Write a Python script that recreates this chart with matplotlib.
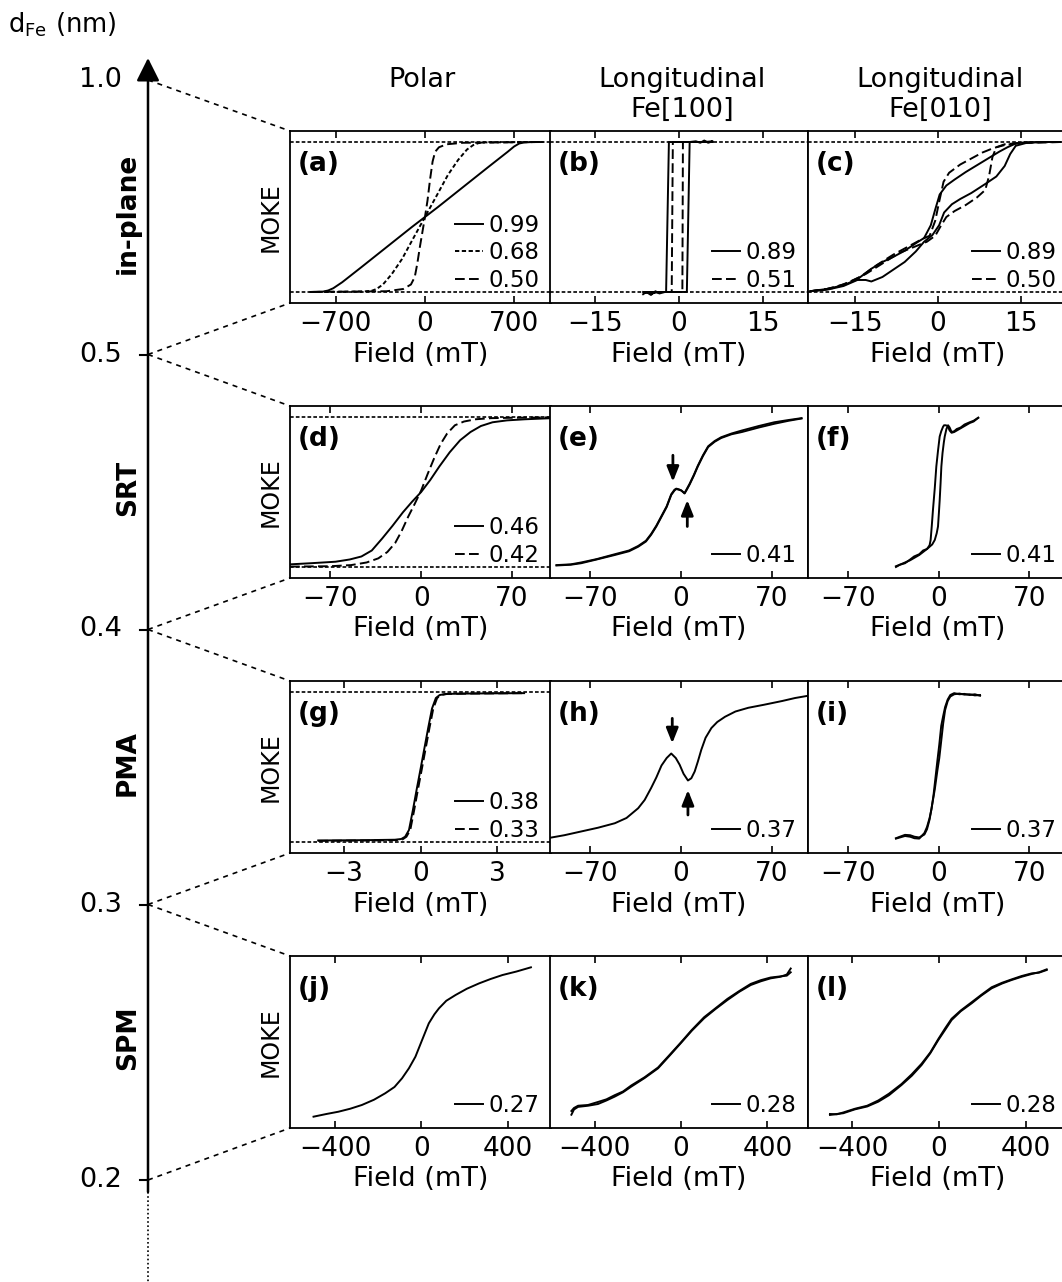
import matplotlib.pyplot as plt

W, H = 1062, 1282
fig = plt.figure(figsize=(W / 100, H / 100), dpi=100)

# thickness axis and labels
d_labels = ["1.0", "0.5", "0.4", "0.3", "0.2"]
row_names = ["in-plane", "SRT", "PMA", "SPM"]
col_titles = ["Polar", "Longitudinal\nFe[100]", "Longitudinal\nFe[010]"]
letters = "abcdefghijkl"

# ---- (a) polar, in-plane
a_x1 = [-900, -800, -760, -720, -650, -500, -300, -100, 0, 100, 300, 500, 650, 700, 740, 780, 850, 925]
a_y1 = [-1.0, -0.995, -0.98, -0.95, -0.87, -0.67, -0.40, -0.13, 0.0, 0.13, 0.40, 0.67, 0.87, 0.94, 0.98, 0.995, 1.0, 1.0]
a_x2 = [-900, -500, -420, -380, -330, -260, -180, -100, 0, 100, 180, 260, 330, 380, 420, 470, 900]
a_y2 = [-1.0, -0.995, -0.985, -0.96, -0.9, -0.76, -0.56, -0.31, 0.0, 0.31, 0.56, 0.76, 0.9, 0.96, 0.985, 0.995, 1.0]
a_x3 = [-900, -300, -170, -110, -80, -60, -40, -20, 0, 20, 40, 60, 80, 110, 170, 300, 900]
a_y3 = [-1.0, -0.99, -0.96, -0.9, -0.8, -0.62, -0.4, -0.2, 0.0, 0.22, 0.5, 0.74, 0.87, 0.93, 0.97, 0.99, 1.0]

# ---- (b) longitudinal Fe[100], in-plane
b_x1 = [-6.4, -5.8, -5, -4.2, -3.5, -2.5, 0, 1.4, 1.9, 3, 3.8, 4.5, 5.2, 6, 4.5, 3, 0, -1.8, -2.3, -3.5, -5, -6.4]
b_y1 = [-1.03, -1.0, -1.04, -0.99, -1.02, -1.0, -1.0, -1.0, 1.0, 1.01, 0.99, 1.02, 0.99, 1.01, 1.0, 1.0, 1.0, 1.0, -1.0, -1.0, -1.02, -1.0]
b_x2 = [-6.4, -3, -0.2, 0.6, 0.7, 3, 6, 3, 0, -1.1, -1.3, -3, -6.4]
b_y2 = [-1.0, -1.0, -1.0, -1.0, 1.0, 1.0, 1.0, 1.0, 1.0, 1.0, -1.0, -1.0, -1.0]

# ---- (c) longitudinal Fe[010], in-plane
c_x1_up = [-23, -20, -17, -14.5, -13, -12, -10, -8, -6, -4, -2.5, -1, 0.2, 1.1, 2.5, 4, 6, 8.5, 10.5, 12, 13, 14, 16, 19, 22]
c_y1_up = [-0.99, -0.97, -0.92, -0.84, -0.84, -0.86, -0.8, -0.7, -0.6, -0.46, -0.33, -0.24, -0.11, 0.06, 0.17, 0.24, 0.32, 0.44, 0.54, 0.68, 0.84, 0.95, 0.99, 1.0, 1.0]
c_x1_dn = [22, 18, 15, 14, 12.5, 11, 9, 7, 5, 3, 1.5, 0.3, -0.5, -1.3, -2.5, -4, -6, -8, -10, -12, -14.5, -17, -20, -23]
c_y1_dn = [1.0, 1.0, 0.99, 0.98, 0.93, 0.87, 0.78, 0.69, 0.6, 0.5, 0.42, 0.3, 0.1, -0.11, -0.28, -0.35, -0.45, -0.53, -0.6, -0.69, -0.83, -0.91, -0.96, -0.99]
c_x2_up = [-23, -19, -16, -13, -10, -7, -4, -2, -0.5, 0.5, 1.5, 3, 5, 7, 8.5, 9.2, 9.8, 10.5, 12, 15, 22]
c_y2_up = [-0.99, -0.95, -0.87, -0.76, -0.62, -0.48, -0.39, -0.33, -0.25, -0.12, 0.0, 0.08, 0.16, 0.26, 0.36, 0.55, 0.8, 0.93, 0.97, 0.99, 1.0]
c_x2_dn = [22, 15, 12, 10, 8, 6, 4, 2, 1, 0.2, -0.5, -1.5, -3, -5, -8, -11, -14, -17, -20, -23]
c_y2_dn = [1.0, 0.99, 0.96, 0.92, 0.86, 0.78, 0.7, 0.59, 0.47, 0.2, -0.05, -0.25, -0.3, -0.38, -0.5, -0.64, -0.8, -0.9, -0.96, -0.99]

# ---- (d) polar, SRT
d_x1 = [-101, -85, -66, -55, -46, -38, -30, -22, -14, -7, 0, 7, 14, 22, 30, 38, 46, 55, 66, 80, 101]
d_y1 = [-0.965, -0.95, -0.93, -0.9, -0.86, -0.78, -0.62, -0.45, -0.27, -0.13, 0.0, 0.16, 0.34, 0.53, 0.69, 0.8, 0.88, 0.93, 0.955, 0.97, 0.985]
d_x2 = [-101, -70, -54, -42, -33, -26, -20, -15, -10, -5, 0, 5, 10, 15, 20, 26, 33, 42, 54, 70, 101]
d_y2 = [-0.995, -0.99, -0.975, -0.94, -0.885, -0.8, -0.68, -0.52, -0.33, -0.16, 0.02, 0.24, 0.45, 0.64, 0.78, 0.89, 0.94, 0.97, 0.985, 0.99, 0.995]

# ---- (e) longitudinal Fe[100], SRT
e_x = [-96, -85, -77, -65, -51, -40, -33, -27, -23, -19, -15, -11, -7.5, -5, -3.6, -1.5, 0.3, 2.8, 4.5, 6.7, 10, 13, 17, 21, 26, 31, 39, 47, 60, 72, 83, 93]
e_y_up = [-0.98, -0.97, -0.95, -0.9, -0.84, -0.79, -0.73, -0.66, -0.57, -0.46, -0.33, -0.2, -0.04, 0.02, 0.04, 0.03, 0.02, -0.02, 0.03, 0.1, 0.22, 0.34, 0.48, 0.6, 0.67, 0.72, 0.77, 0.8, 0.86, 0.91, 0.95, 0.98]
e_y_dn = [-0.975, -0.965, -0.94, -0.895, -0.83, -0.78, -0.72, -0.65, -0.56, -0.45, -0.32, -0.19, -0.03, 0.03, 0.045, 0.035, 0.02, -0.015, 0.04, 0.11, 0.23, 0.35, 0.49, 0.61, 0.68, 0.73, 0.78, 0.82, 0.88, 0.93, 0.96, 0.985]
e_arrows = [(-6.2, 0.49, 0.137), (4.9, -0.46, -0.107)]

# ---- (f) longitudinal Fe[010], SRT
f_x_up = [-33, -30, -26, -22, -19, -15, -12, -9, -7, -5, -3, -1.5, -0.5, 0.3, 0.8, 1.5, 2.1, 3, 4, 4.7, 6, 7.3, 8.5, 10, 12, 14, 17, 20, 24, 27, 30.6]
f_y_up = [-1.0, -0.97, -0.95, -0.9, -0.86, -0.83, -0.78, -0.76, -0.73, -0.7, -0.64, -0.55, -0.46, -0.25, -0.11, 0.12, 0.34, 0.52, 0.66, 0.74, 0.84, 0.89, 0.86, 0.8, 0.81, 0.84, 0.86, 0.9, 0.93, 0.95, 0.99]
f_x_dn = [30.6, 27, 24, 20, 17, 14, 12, 10, 8.5, 7, 5.5, 4.2, 3.4, 2, 0.8, -0.5, -1.8, -3, -4.4, -5.3, -6.2, -7, -9, -12, -15, -19, -22, -26, -30, -33]
f_y_dn = [0.99, 0.94, 0.92, 0.88, 0.85, 0.82, 0.8, 0.79, 0.82, 0.88, 0.89, 0.89, 0.87, 0.81, 0.74, 0.55, 0.34, 0.05, -0.24, -0.45, -0.64, -0.71, -0.76, -0.8, -0.84, -0.88, -0.91, -0.94, -0.97, -0.99]

# ---- (g) polar, PMA
g_x1 = [-4.0, -2, -1.0, -0.75, -0.6, -0.45, -0.3, -0.15, 0.0, 0.15, 0.3, 0.45, 0.6, 0.75, 1.0, 2, 4.05]
g_y1 = [-0.98, -0.975, -0.97, -0.96, -0.93, -0.84, -0.58, -0.3, -0.03, 0.245, 0.52, 0.78, 0.92, 0.96, 0.975, 0.98, 0.985]
g_x2 = [-4.0, -2, -0.95, -0.7, -0.55, -0.4, -0.25, -0.1, 0.05, 0.2, 0.35, 0.5, 0.65, 0.8, 1.05, 2, 4.05]
g_y2 = [-0.985, -0.98, -0.975, -0.965, -0.93, -0.84, -0.58, -0.3, -0.03, 0.245, 0.52, 0.78, 0.92, 0.96, 0.975, 0.98, 0.985]

# ---- (h) longitudinal Fe[100], PMA
h_x = [-103, -90, -77, -64, -51, -42, -33, -28, -23, -19, -15, -11, -7.5, -4, -1, 2, 5.4, 8, 10.6, 13, 15.7, 19, 23.5, 28, 34, 42, 52, 64, 78, 88, 98]
h_y = [-0.95, -0.91, -0.86, -0.81, -0.75, -0.68, -0.55, -0.44, -0.28, -0.14, 0.02, 0.12, 0.18, 0.12, 0.03, -0.09, -0.18, -0.15, -0.06, 0.07, 0.23, 0.39, 0.52, 0.6, 0.67, 0.74, 0.79, 0.83, 0.88, 0.92, 0.95]
h_arrows = [(-6.7, 0.649, 0.316), (5.4, -0.64, -0.307)]

# ---- (i) longitudinal Fe[010], PMA
i_x_up = [-33, -30, -26, -22, -18.7, -15, -11, -9, -7, -5, -3, -1, 0.5, 2, 3.5, 5, 7, 9, 12, 16, 20, 24, 28, 32]
i_y_up = [-0.95, -0.93, -0.905, -0.91, -0.93, -0.94, -0.9, -0.83, -0.7, -0.5, -0.3, -0.05, 0.12, 0.35, 0.58, 0.76, 0.88, 0.94, 0.97, 0.98, 0.965, 0.97, 0.955, 0.96]
i_x_dn = [32, 28, 24, 20, 16, 12, 9, 7, 5, 3.5, 2, 0.5, -1, -2.5, -4, -5.5, -7, -9, -11, -15, -18.7, -22, -26, -30, -33]
i_y_dn = [0.95, 0.97, 0.96, 0.975, 0.97, 0.985, 0.96, 0.9, 0.8, 0.68, 0.55, 0.3, 0.08, -0.15, -0.38, -0.56, -0.68, -0.8, -0.88, -0.955, -0.95, -0.93, -0.92, -0.94, -0.955]

# ---- (j) polar, SPM
j_x = [-500, -440, -385, -330, -276, -220, -168, -125, -90, -58, -28, 3, 34, 60, 81, 115, 158, 210, 267, 320, 375, 440, 507]
j_y = [-0.996, -0.96, -0.93, -0.89, -0.84, -0.77, -0.684, -0.6, -0.484, -0.35, -0.196, 0.027, 0.249, 0.37, 0.449, 0.55, 0.627, 0.71, 0.782, 0.84, 0.893, 0.94, 0.996]

# ---- (k) longitudinal Fe[100], SPM
k_x = [-507, -495, -476, -430, -384, -345, -307, -268, -230, -168, -106, -55, -1.5, 50, 107, 160, 215, 270, 323, 370, 415, 460, 490, 508]
k_y_up = [-0.97, -0.9, -0.865, -0.85, -0.827, -0.78, -0.729, -0.67, -0.595, -0.48, -0.351, -0.19, -0.018, 0.15, 0.316, 0.44, 0.56, 0.67, 0.76, 0.81, 0.849, 0.87, 0.9, 0.98]
k_y_dn = [-0.92, -0.88, -0.85, -0.84, -0.8, -0.765, -0.71, -0.66, -0.58, -0.47, -0.34, -0.18, -0.01, 0.16, 0.33, 0.45, 0.575, 0.68, 0.775, 0.825, 0.86, 0.875, 0.885, 0.93]

# ---- (l) longitudinal Fe[010], SPM
l_x = [-501, -470, -440, -386, -330, -279, -230, -172, -125, -80, -40, -3, 30, 58, 100, 150, 195, 242, 290, 334, 380, 426, 460, 495]
l_y_up = [-0.973, -0.96, -0.95, -0.898, -0.86, -0.796, -0.71, -0.573, -0.45, -0.307, -0.15, 0.027, 0.17, 0.293, 0.41, 0.516, 0.62, 0.716, 0.78, 0.827, 0.87, 0.907, 0.93, 0.969]
l_y_dn = [-0.96, -0.965, -0.94, -0.89, -0.85, -0.78, -0.69, -0.56, -0.43, -0.29, -0.14, 0.04, 0.19, 0.31, 0.42, 0.53, 0.63, 0.73, 0.79, 0.835, 0.88, 0.915, 0.925, 0.96]

SOLID = '-'
DOT = (0, (2.2, 1.3))
DASH = (0, (5, 2.2))

curves = [
    [(a_x1, a_y1, SOLID, "0.99"), (a_x2, a_y2, DOT, "0.68"), (a_x3, a_y3, DASH, "0.50")],
    [(b_x1, b_y1, SOLID, "0.89"), (b_x2, b_y2, DASH, "0.51")],
    [(c_x1_up, c_y1_up, SOLID, "0.89"), (c_x1_dn, c_y1_dn, SOLID, None),
     (c_x2_up, c_y2_up, DASH, "0.50"), (c_x2_dn, c_y2_dn, DASH, None)],
    [(d_x1, d_y1, SOLID, "0.46"), (d_x2, d_y2, DASH, "0.42")],
    [(e_x, e_y_up, SOLID, "0.41"), (e_x, e_y_dn, SOLID, None)],
    [(f_x_up, f_y_up, SOLID, "0.41"), (f_x_dn, f_y_dn, SOLID, None)],
    [(g_x1, g_y1, SOLID, "0.38"), (g_x2, g_y2, DASH, "0.33")],
    [(h_x, h_y, SOLID, "0.37")],
    [(i_x_up, i_y_up, SOLID, "0.37"), (i_x_dn, i_y_dn, SOLID, None)],
    [(j_x, j_y, SOLID, "0.27")],
    [(k_x, k_y_up, SOLID, "0.28"), (k_x, k_y_dn, SOLID, None)],
    [(l_x, l_y_up, SOLID, "0.28"), (l_x, l_y_dn, SOLID, None)],
]
arrows = {4: e_arrows, 7: h_arrows}

xlims = [(-1060, 990), (-23, 23), (-23.4, 23.4),
         (-101, 100), (-101, 98), (-101, 100),
         (-5.1, 5.1), (-101, 98), (-101, 100),
         (-609, 600), (-606, 588), (-602, 593)]
xticks = [[-700, 0, 700], [-15, 0, 15], [-15, 0, 15],
          [-70, 0, 70], [-70, 0, 70], [-70, 0, 70],
          [-3, 0, 3], [-70, 0, 70], [-70, 0, 70],
          [-400, 0, 400], [-400, 0, 400], [-400, 0, 400]]
sat_lines = [True, True, True, True, False, False, True, False, False, False, False, False]

# layout (pixels)
col_left = [290, 550, 808]
col_width = [261, 258, 260]
row_top = [131, 406, 681, 956]
row_h = 172
axis_x = 148
tick_x = 290
FS = 19.5

# background axes in pixel coordinates for the thickness axis
bg = fig.add_axes([0, 0, 1, 1])
bg.set_xlim(0, W)
bg.set_ylim(H, 0)
bg.axis('off')

tick_y = [row_top[0] - 51] + [(row_top[r] + row_h + row_top[r + 1]) / 2 for r in range(3)] + [row_top[3] + row_h + 52]
bg.annotate('', xy=(axis_x, 58), xytext=(axis_x, tick_y[-1] + 12),
            arrowprops=dict(arrowstyle='-|>,head_length=0.7,head_width=0.35', lw=1.8, color='k',
                            mutation_scale=20, shrinkA=0, shrinkB=0))
bg.plot([axis_x, axis_x], [tick_y[-1] + 12, H], color='k', lw=1.2, ls=(0, (1, 1.5)))
for ty, lab in zip(tick_y, d_labels):
    bg.plot([axis_x - 8, axis_x], [ty, ty], color='k', lw=1.5)
    bg.text(axis_x - 26, ty, lab, ha='right', va='center', fontsize=FS)
bg.text(8, 25, r"d$_{\mathrm{Fe}}$ (nm)", ha='left', va='center', fontsize=18.5)

for r in range(4):
    top = row_top[r]
    bot = top + row_h
    bg.plot([axis_x, tick_x], [tick_y[r], top], color='k', lw=1.2, ls=(0, (3, 3)))
    bg.plot([axis_x, tick_x], [tick_y[r + 1], bot], color='k', lw=1.2, ls=(0, (3, 3)))
    bg.text(128, (top + bot) / 2 - 4, row_names[r], rotation=90, ha='center', va='center',
            fontsize=19, fontweight='bold')

for c in range(3):
    cx = col_left[c] + 132
    bg.text(cx, 80 if c == 0 else 95, col_titles[c], ha='center', va='center',
            fontsize=FS, linespacing=1.2)

for idx in range(12):
    r, c = divmod(idx, 3)
    ax = fig.add_axes([col_left[c] / W, 1 - (row_top[r] + row_h) / H, col_width[c] / W, row_h / H])
    for xs, ys, ls, lab in curves[idx]:
        ax.plot(xs, ys, color='k', lw=1.4, ls=ls, label=lab if lab else '_nolegend_')
    if sat_lines[idx]:
        ax.axhline(1, color='k', lw=1.2, ls=DOT)
        ax.axhline(-1, color='k', lw=1.2, ls=DOT)
    for x, y0, y1 in arrows.get(idx, []):
        ax.annotate('', xy=(x, y1), xytext=(x, y0),
                    arrowprops=dict(arrowstyle='-|>,head_length=0.45,head_width=0.18', lw=2,
                                    color='k', mutation_scale=20, shrinkA=0, shrinkB=0))
    ax.set_xlim(*xlims[idx])
    ax.set_ylim(-1.147, 1.147)
    ax.set_xticks(xticks[idx])
    ax.set_yticks([])
    ax.tick_params(axis='x', direction='in', top=True, length=5, width=1.2, labelsize=19, pad=6)
    for sp in ax.spines.values():
        sp.set_linewidth(1.3)
    ax.set_xlabel("Field (mT)", fontsize=FS, labelpad=3)
    if c == 0:
        ax.set_ylabel("MOKE", fontsize=17, labelpad=5)
    ax.text(0.03, 0.81, "(" + letters[idx] + ")", transform=ax.transAxes, ha='left', va='center',
            fontsize=19, fontweight='bold')
    ax.legend(loc='lower right', frameon=False, fontsize=16.5, handlelength=1.2, handletextpad=0.25,
              labelspacing=0.18, borderaxespad=0.2, borderpad=0.3)

fig.savefig("out.png", dpi=100)
